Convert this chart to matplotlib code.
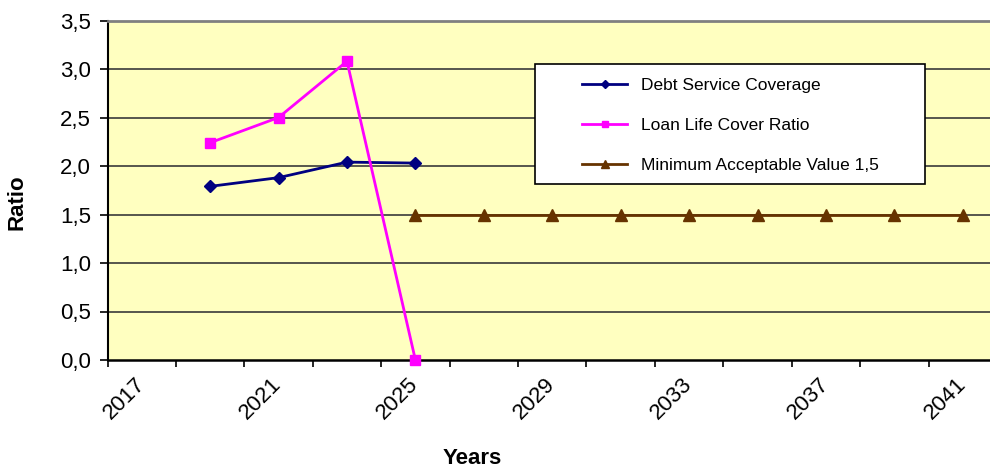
import matplotlib
matplotlib.use("Agg")
import matplotlib.pyplot as plt
from matplotlib.patches import Rectangle
from matplotlib.ticker import FixedLocator, NullFormatter

plt.rcParams['font.family'] = ['Liberation Sans', 'DejaVu Sans']

# data
years_dsc = [2019, 2021, 2023, 2025]
dsc = [1.79, 1.88, 2.04, 2.03]
years_llcr = [2019, 2021, 2023, 2025]
llcr = [2.24, 2.50, 3.08, 0.0]
years_min = [2025, 2027, 2029, 2031, 2033, 2035, 2037, 2039, 2041]
min_val = [1.5, 1.5, 1.5, 1.5, 1.5, 1.5, 1.5, 1.5, 1.5]

year_labels = [2017, 2021, 2025, 2029, 2033, 2037, 2041]
cat_edges = list(range(2016, 2043, 2))
y_ticks = [0.0, 0.5, 1.0, 1.5, 2.0, 2.5, 3.0, 3.5]


def main():
    W, H = 990, 468
    fig = plt.figure(figsize=(W / 100, H / 100), dpi=100)
    fig.patch.set_facecolor('white')

    # plot area runs a little past the right edge of the picture
    ax = fig.add_axes([107.5 / W, 1 - 360 / H, 889.5 / W, 339.5 / H])
    ax.set_facecolor('#FFFFC0')

    ax.plot(years_dsc, dsc, color='#000080', lw=2, marker='D', ms=6.5,
            label='Debt Service Coverage', zorder=3)
    ax.plot(years_llcr, llcr, color='#FF00FF', lw=2, marker='s', ms=7.5,
            label='Loan Life Cover Ratio', zorder=3, clip_on=False)
    ax.plot(years_min, min_val, color='#663300', lw=2, marker='^', ms=8,
            label='Minimum Acceptable Value 1,5', zorder=3)

    ax.set_xlim(2016, 2042)
    ax.set_ylim(0, 3.5)

    ax.set_yticks(y_ticks)
    ax.set_yticklabels([f"{v:.1f}".replace('.', ',') for v in y_ticks])
    for v in y_ticks[1:-1]:
        ax.axhline(v, color='#3a3a3a', lw=1.2, zorder=1)

    ax.xaxis.set_major_locator(FixedLocator(cat_edges))
    ax.xaxis.set_major_formatter(NullFormatter())
    ax.xaxis.set_minor_locator(FixedLocator(year_labels))
    ax.set_xticklabels([str(y) for y in year_labels], minor=True,
                       rotation=45, ha='right', va='center',
                       rotation_mode='anchor', fontsize=16)
    ax.tick_params(axis='x', which='major', direction='out', length=5,
                   width=1.2, color='black')
    ax.tick_params(axis='x', which='minor', length=0, pad=15)
    ax.tick_params(axis='y', direction='out', length=6, width=1.2,
                   labelsize=16, pad=6)

    ax.spines['top'].set_color('#808080')
    ax.spines['top'].set_linewidth(2)
    ax.spines['right'].set_visible(False)
    ax.spines['left'].set_color('black')
    ax.spines['left'].set_linewidth(1.5)
    ax.spines['bottom'].set_color('black')
    ax.spines['bottom'].set_linewidth(1.8)

    fig.text(17 / W, 1 - 202 / H, 'Ratio', rotation=90, fontsize=16,
             fontweight='bold', ha='center', va='center')
    fig.text(472 / W, 1 - 458 / H, 'Years', fontsize=16,
             fontweight='bold', ha='center', va='center')

    # legend box drawn separately so the padding matches
    box = Rectangle((535 / W, 1 - 184 / H), 390 / W, 120 / H,
                    transform=fig.transFigure, facecolor='white',
                    edgecolor='black', lw=1.2, zorder=5)
    ax.add_patch(box)
    box.set_clip_on(False)
    leg = ax.legend(loc='upper left', bbox_to_anchor=(582 / W, 1 - 77.5 / H),
                    bbox_transform=fig.transFigure, frameon=False,
                    fontsize=12.5, handlelength=2.6, handletextpad=0.8,
                    labelspacing=1.45, borderpad=0, borderaxespad=0,
                    markerscale=0.65)
    leg.set_zorder(6)

    fig.savefig('out.png', dpi=100)


if __name__ == "__main__":
    main()
